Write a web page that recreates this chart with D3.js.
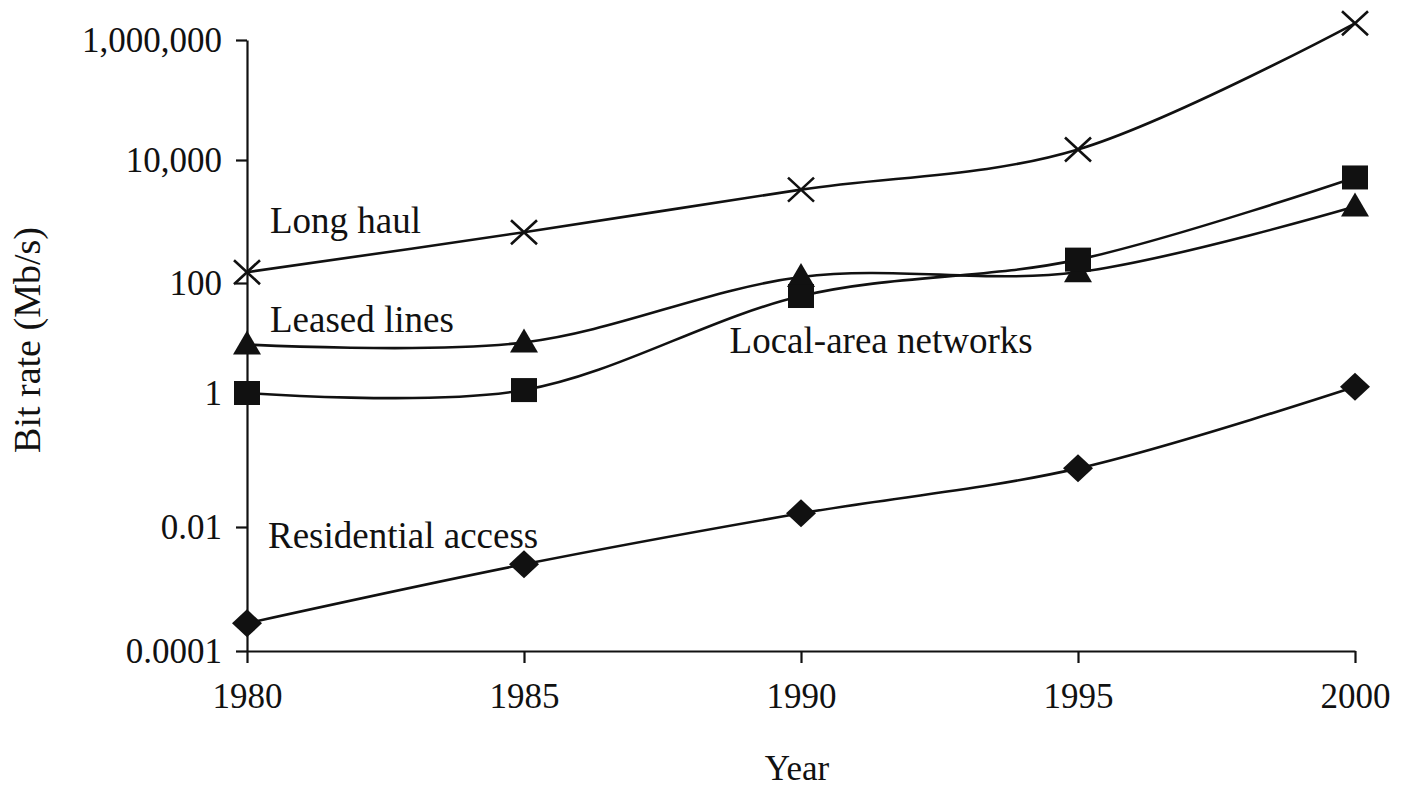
<!DOCTYPE html>
<meta charset="utf-8">

<script src="https://d3js.org/d3.v7.min.js"></script>

<style>
  body { margin: 0; background: #fff; }
  text { font-family: "Liberation Serif", "Times New Roman", serif; fill: #111; }
</style>

<svg id="chart" width="1407" height="790"></svg>

<script>

  // data (Mb/s)
  var years = [1980, 1985, 1990, 1995, 2000];
  var longHaul = [150, 670, 3300, 15000, 1900000];
  var leasedLines = [7.6, 8.3, 125, 150, 1750];
  var localArea = [1, 1.13, 58, 240, 5200];
  var residential = [0.00028, 0.0025, 0.016, 0.075, 1.3];

  var yTicks = [0.0001, 0.01, 1, 100, 10000, 1000000];
  var yTickLabels = ["0.0001", "0.01", "1", "100", "10,000", "1,000,000"];
  var xTicks = [1980, 1985, 1990, 1995, 2000];

  var svg = d3.select("#chart");

  // x: years
  var x = d3.scaleLinear()
      .domain([1980, 2000])
      .range([247, 1355]);

  // y: log scale, one stop per labelled tick (the printed axis is not quite even)
  var y = d3.scaleLog()
      .domain(yTicks)
      .range([651, 527, 393, 283, 160, 40]);

  // axes
  var yAxis = d3.axisLeft(y)
      .tickValues(yTicks)
      .tickFormat(function(d, i) { return yTickLabels[i]; })
      .tickSize(11)
      .tickSizeOuter(0)
      .tickPadding(14);

  var xAxis = d3.axisBottom(x)
      .tickValues(xTicks)
      .tickFormat(d3.format("d"))
      .tickSize(12)
      .tickSizeOuter(0)
      .tickPadding(20);

  var gy = svg.append("g")
      .attr("transform", "translate(" + x(1980) + ",0)")
      .call(yAxis);

  var gx = svg.append("g")
      .attr("transform", "translate(0," + y(0.0001) + ")")
      .call(xAxis);

  [gx, gy].forEach(function(g) {
    g.selectAll("path, line").attr("stroke", "#111").attr("stroke-width", 2.2);
    g.selectAll("text")
        .style("font-size", "35px")
        .style("font-family", "'Liberation Serif', serif")
        .attr("fill", "#111");
  });

  // axis titles
  svg.append("text")
      .attr("x", 797)
      .attr("y", 780)
      .attr("text-anchor", "middle")
      .style("font-size", "35px")
      .text("Year");

  svg.append("text")
      .attr("transform", "translate(40,340) rotate(-90)")
      .attr("text-anchor", "middle")
      .style("font-size", "38px")
      .text("Bit rate (Mb/s)");

  // series
  var series = [
    {name: "Long haul", values: longHaul, marker: "cross"},
    {name: "Leased lines", values: leasedLines, marker: "triangle"},
    {name: "Local-area networks", values: localArea, marker: "square"},
    {name: "Residential access", values: residential, marker: "diamond"}
  ];

  var line = d3.line()
      .x(function(d) { return x(d[0]); })
      .y(function(d) { return y(d[1]); })
      .curve(d3.curveCardinal.tension(0));

  series.forEach(function(s) {
    var pts = years.map(function(yr, i) { return [yr, s.values[i]]; });

    svg.append("path")
        .attr("d", line(pts))
        .attr("fill", "none")
        .attr("stroke", "#111")
        .attr("stroke-width", 2.6);

    var g = svg.append("g");
    pts.forEach(function(p) {
      var cx = x(p[0]), cy = y(p[1]);
      if (s.marker == "cross") {
        g.append("path")
            .attr("d", "M" + (cx - 13) + "," + (cy - 12) + "L" + (cx + 13) + "," + (cy + 12) +
                       "M" + (cx - 13) + "," + (cy + 12) + "L" + (cx + 13) + "," + (cy - 12))
            .attr("stroke", "#111")
            .attr("stroke-width", 2.6)
            .attr("fill", "none");
      } else if (s.marker == "triangle") {
        g.append("path")
            .attr("d", "M" + cx + "," + (cy - 14) + "L" + (cx + 14) + "," + (cy + 10) + "L" + (cx - 14) + "," + (cy + 10) + "Z")
            .attr("fill", "#111");
      } else if (s.marker == "square") {
        g.append("rect")
            .attr("x", cx - 13).attr("y", cy - 12)
            .attr("width", 26).attr("height", 24)
            .attr("fill", "#111");
      } else {
        g.append("path")
            .attr("d", "M" + cx + "," + (cy - 14) + "L" + (cx + 15) + "," + cy + "L" + cx + "," + (cy + 14) + "L" + (cx - 15) + "," + cy + "Z")
            .attr("fill", "#111");
      }
    });
  });

  // in-plot labels
  var labels = [
    {text: "Long haul", x: x(1980) + 23, y: 233},
    {text: "Leased lines", x: x(1980) + 23, y: 332},
    {text: "Local-area networks", x: x(1989) - 16, y: 353},
    {text: "Residential access", x: x(1980) + 21, y: 548}
  ];

  svg.append("g")
    .selectAll("text")
    .data(labels)
    .enter().append("text")
      .attr("x", function(d) { return d.x; })
      .attr("y", function(d) { return d.y; })
      .style("font-size", "37px")
      .text(function(d) { return d.text; });

</script>
